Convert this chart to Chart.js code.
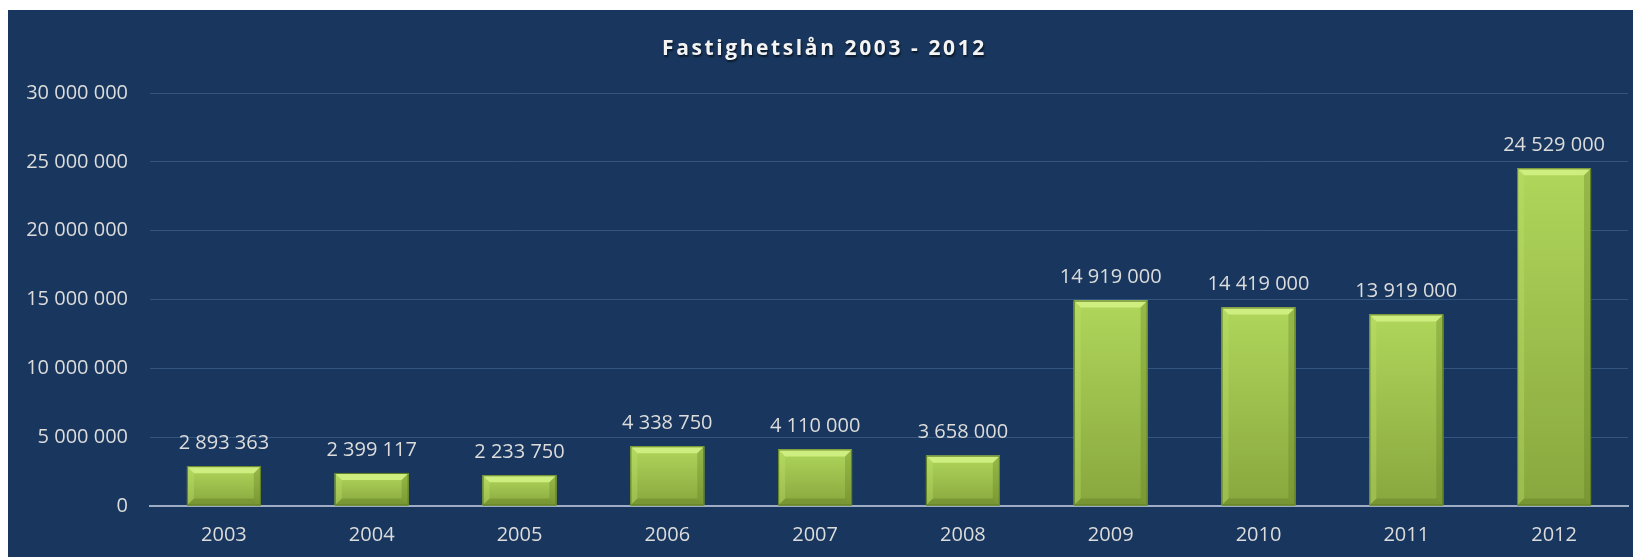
<!DOCTYPE html>
<html>
<head>
<meta charset="utf-8">
<script src="https://cdn.jsdelivr.net/npm/chart.js@4.4.1/dist/chart.umd.min.js"></script>
<style>
    html, body { margin: 0; padding: 0; background: #ffffff; }
    #panel {
        position: absolute;
        left: 8px;
        top: 10px;
        width: 1625px;
        height: 547px;
        background: #19375e;
    }
</style>
</head>
<body>
<div id="panel"><canvas id="graficoCanvas"></canvas></div>
<script>
    // data
    const years = ["2003", "2004", "2005", "2006", "2007", "2008", "2009", "2010", "2011", "2012"];
    const loans = [2893363, 2399117, 2233750, 4338750, 4110000, 3658000, 14919000, 14419000, 13919000, 24529000];
    const yTicks = [0, 5000000, 10000000, 15000000, 20000000, 25000000, 30000000];
    const chartTitle = "Fastighetslån 2003 - 2012";

    const textColor = "#dcdcdc";
    const font = "'Open Sans', 'DejaVu Sans', sans-serif";

    function fmt(n) {
        return String(n).replace(/\B(?=(\d{3})+(?!\d))/g, " ");
    }

    // title with letter spacing and a soft shadow
    const titlePlugin = {
        id: "spacedTitle",
        afterDraw(chart) {
            const c = chart.ctx;
            c.save();
            c.font = "bold 21px " + font;
            c.letterSpacing = "2.6px";
            c.textAlign = "center";
            c.textBaseline = "middle";
            c.shadowColor = "rgba(0,0,0,0.6)";
            c.shadowOffsetX = 1;
            c.shadowOffsetY = 2;
            c.shadowBlur = 2;
            c.fillStyle = "#f4f4f4";
            c.fillText(chartTitle, chart.width / 2 + 4, 39);
            c.restore();
        }
    };

    // bevelled look on the bars + value labels
    const barStyle = {
        id: "barStyle",
        afterDatasetsDraw(chart) {
            const c = chart.ctx;
            const meta = chart.getDatasetMeta(0);
            meta.data.forEach(function (bar, i) {
                const l = bar.x - bar.width / 2;
                const r = bar.x + bar.width / 2;
                const t = bar.y;
                const b = bar.base;
                const h = b - t;
                const bv = Math.min(7, h / 3);

                c.save();
                const g = c.createLinearGradient(0, t, 0, b);
                g.addColorStop(0, "#b0d65b");
                g.addColorStop(1, "#88a73e");
                c.fillStyle = g;
                c.fillRect(l, t, r - l, h);

                // top bevel
                c.fillStyle = "#cfee80";
                c.beginPath();
                c.moveTo(l, t); c.lineTo(r, t); c.lineTo(r - bv, t + bv); c.lineTo(l + bv, t + bv);
                c.closePath(); c.fill();
                // left bevel
                c.fillStyle = "rgba(190,225,110,0.35)";
                c.beginPath();
                c.moveTo(l, t); c.lineTo(l + bv, t + bv); c.lineTo(l + bv, b - bv); c.lineTo(l, b);
                c.closePath(); c.fill();
                // right bevel
                c.fillStyle = "rgba(90,120,30,0.3)";
                c.beginPath();
                c.moveTo(r, t); c.lineTo(r - bv, t + bv); c.lineTo(r - bv, b - bv); c.lineTo(r, b);
                c.closePath(); c.fill();
                // bottom bevel
                c.fillStyle = "rgba(80,110,25,0.3)";
                c.beginPath();
                c.moveTo(l, b); c.lineTo(l + bv, b - bv); c.lineTo(r - bv, b - bv); c.lineTo(r, b);
                c.closePath(); c.fill();
                // outline
                c.strokeStyle = "#5f7d24";
                c.lineWidth = 1;
                c.strokeRect(l + 0.5, t + 0.5, r - l - 1, h - 1);
                c.restore();

                c.save();
                c.font = "20px " + font;
                c.fillStyle = textColor;
                c.textAlign = "center";
                c.textBaseline = "middle";
                c.fillText(fmt(loans[i]), bar.x, t - 23);
                c.restore();
            });
        }
    };

    const ctx = document.getElementById("graficoCanvas").getContext("2d");

    new Chart(ctx, {
        type: "bar",
        data: {
            labels: years,
            datasets: [{
                label: "Fastighetslån",
                data: loans,
                backgroundColor: "#9bc24a",
                barPercentage: 0.5,
                categoryPercentage: 1.0
            }]
        },
        options: {
            responsive: true,
            maintainAspectRatio: false,
            animation: false,
            layout: {
                padding: { top: 83, right: 5, bottom: -7, left: 0 }
            },
            plugins: {
                legend: { display: false },
                title: { display: false },
                tooltip: { enabled: false }
            },
            scales: {
                x: {
                    grid: { display: false, drawTicks: false },
                    border: { color: "#9eadc3", width: 2 },
                    ticks: { color: textColor, font: { size: 20, family: font }, padding: 17 }
                },
                y: {
                    min: 0,
                    max: 30000000,
                    afterFit: function (scale) { scale.width = 142; },
                    afterBuildTicks: function (scale) {
                        scale.ticks = yTicks.map(v => ({ value: v }));
                    },
                    grid: {
                        drawTicks: false,
                        color: c => c.tick && c.tick.value === 0 ? "rgba(0,0,0,0)" : "#33547e"
                    },
                    border: { display: false },
                    ticks: {
                        color: textColor,
                        font: { size: 20, family: font },
                        padding: 22,
                        callback: v => fmt(v)
                    }
                }
            }
        },
        plugins: [titlePlugin, barStyle]
    });
</script>
</body>
</html>
